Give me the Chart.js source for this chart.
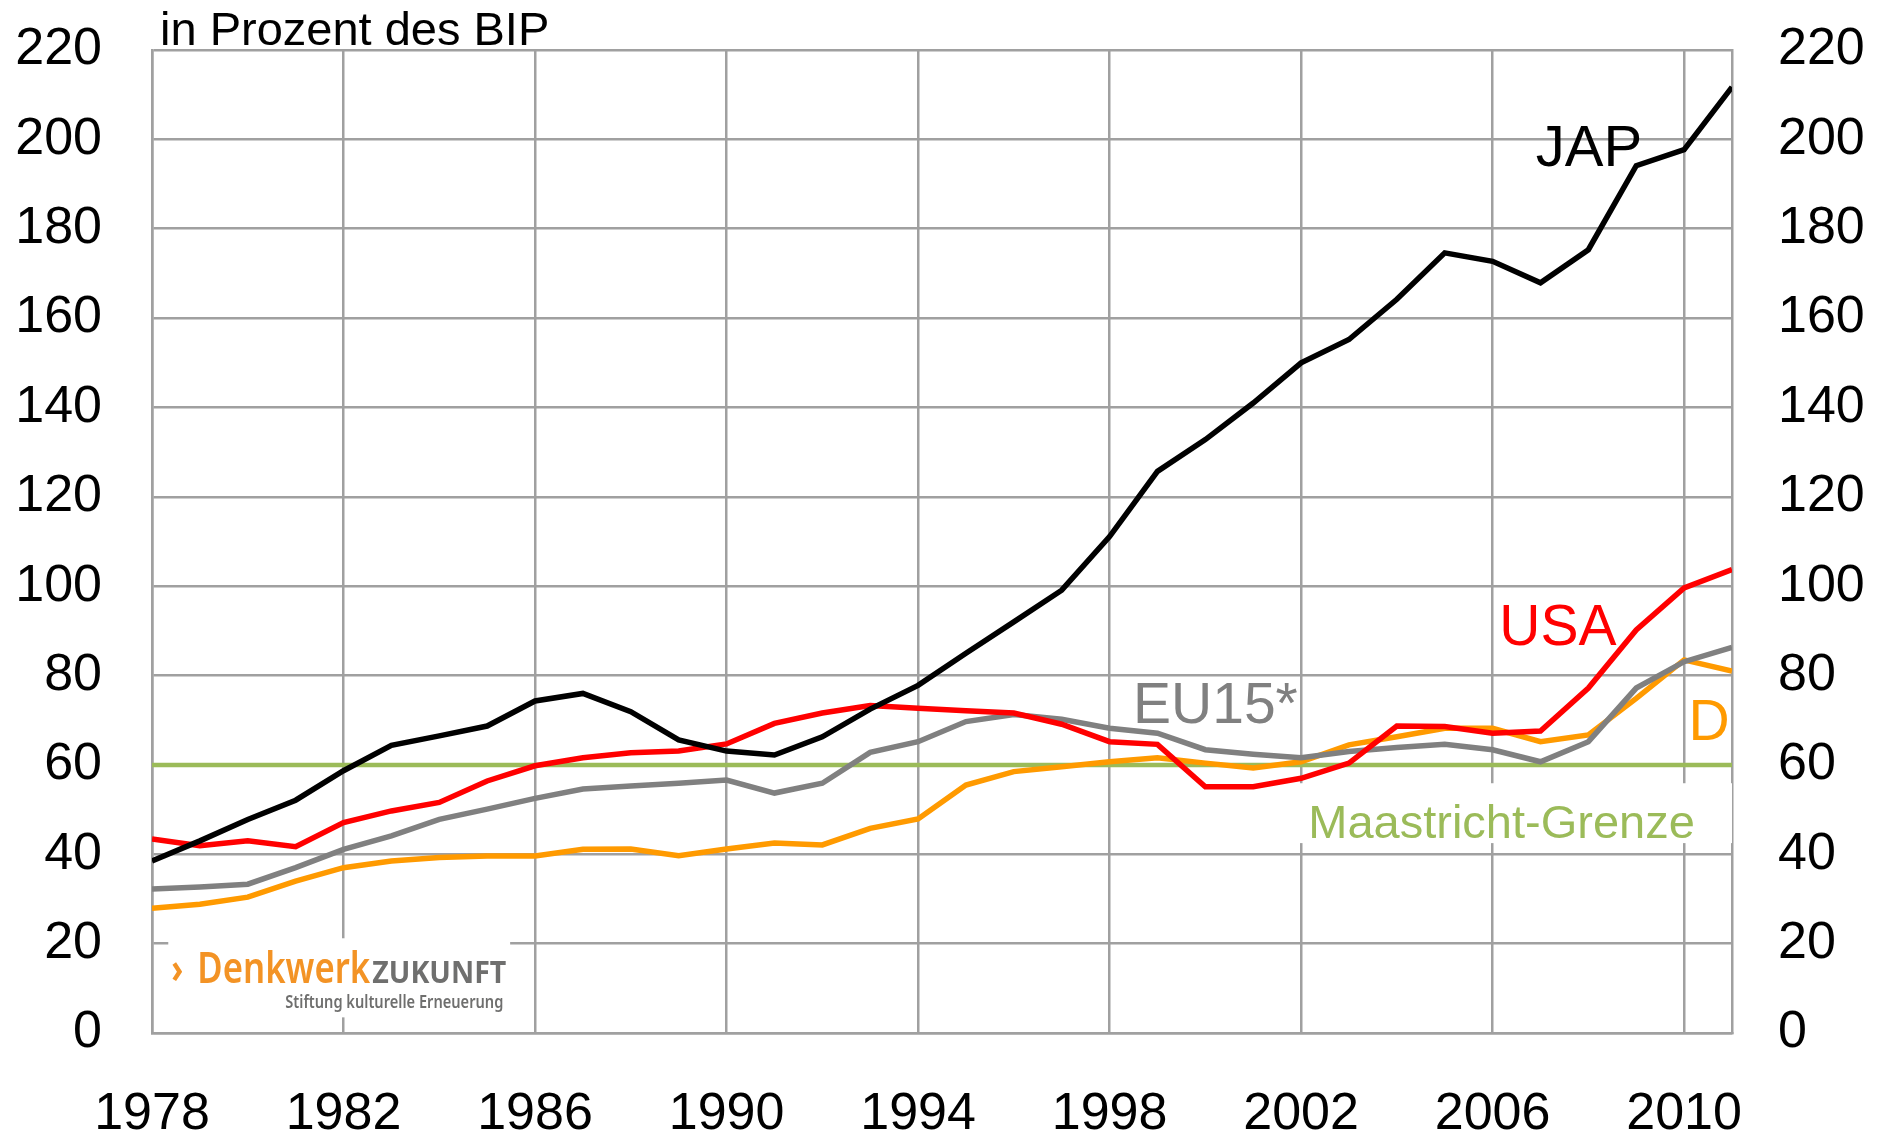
<!DOCTYPE html>
<html lang="de">
<head>
<meta charset="utf-8">
<title>Staatsverschuldung in Prozent des BIP</title>
<script src="https://cdn.jsdelivr.net/npm/chart.js@4.4.1/dist/chart.umd.min.js"></script>
<style>
  html, body { margin: 0; padding: 0; background: #fff; }
  #wrap { width: 1885px; height: 1134px; }
</style>
</head>
<body>
<div id="wrap"><canvas id="debtChart" width="1885" height="1134"></canvas></div>
<script>
// Jahre und Schuldenquoten (in Prozent des BIP)
const years = [1978, 1979, 1980, 1981, 1982, 1983, 1984, 1985, 1986, 1987,
               1988, 1989, 1990, 1991, 1992, 1993, 1994, 1995, 1996, 1997,
               1998, 1999, 2000, 2001, 2002, 2003, 2004, 2005, 2006, 2007,
               2008, 2009, 2010, 2011];
const jap  = [38.5, 43.0, 47.8, 52.1, 58.7, 64.4, 66.5, 68.7, 74.3, 76.0,
              71.9, 65.6, 63.1, 62.2, 66.3, 72.5, 77.8, 85.0, 92.0, 99.1,
              111.1, 125.7, 132.8, 141.0, 150.0, 155.2, 164.2, 174.6, 172.7, 167.9,
              175.3, 194.1, 197.7, 211.7];
const usa  = [43.4, 41.9, 43.0, 41.7, 47.1, 49.7, 51.6, 56.4, 59.8, 61.6,
              62.7, 63.1, 64.7, 69.3, 71.6, 73.3, 72.7, 72.1, 71.6, 69.1,
              65.2, 64.6, 55.1, 55.1, 57.0, 60.4, 68.7, 68.6, 67.1, 67.6,
              77.2, 90.2, 99.6, 103.7];
const eu15 = [32.2, 32.7, 33.3, 37.0, 41.1, 44.1, 47.8, 50.1, 52.5, 54.6,
              55.3, 55.9, 56.6, 53.7, 55.9, 62.8, 65.2, 69.7, 71.3, 70.2,
              68.2, 67.1, 63.4, 62.4, 61.6, 63.0, 63.9, 64.6, 63.4, 60.7,
              65.2, 77.2, 83.1, 86.3];
const deu  = [27.9, 28.8, 30.4, 34.0, 37.0, 38.5, 39.3, 39.6, 39.6, 41.1,
              41.2, 39.7, 41.2, 42.5, 42.1, 45.8, 47.9, 55.5, 58.5, 59.6,
              60.7, 61.6, 60.4, 59.3, 60.7, 64.5, 66.3, 68.2, 68.2, 65.2,
              66.7, 74.9, 83.5, 81.0];
const maastrichtGrenze = 60;

const xTicks = [1978, 1982, 1986, 1990, 1994, 1998, 2002, 2006, 2010];
const yTicks = [0, 20, 40, 60, 80, 100, 120, 140, 160, 180, 200, 220];

// Farben / Schrift
const gridColor = '#a0a0a0';
const fontFamily = '"Liberation Sans", Arial, sans-serif';
const logoFont = '"Noto Sans", "Open Sans", sans-serif';
const colJap = '#000000';
const colUsa = '#ff0000';
const colEu = '#808080';
const colDeu = '#ff9a00';
const colMaas = '#9bbb59';

// Beschriftungen an den Linien (Position in Jahr / Prozent)
const seriesLabels = [
    { text: 'JAP',   x: 2006.9,  y: 194.1, color: colJap,  size: 58 },
    { text: 'USA',   x: 2006.14, y: 86.9,  color: colUsa,  size: 57 },
    { text: 'EU15*', x: 1998.49, y: 69.3,  color: colEu,   size: 57 },
    { text: 'D',     x: 2010.09, y: 65.6,  color: colDeu,  size: 57 },
    { text: 'Maastricht-Grenze', x: 2002.15, y: 43.6, color: colMaas, size: 47 }
];
// weiße Hintergrundflächen (Logo unten links, Maastricht-Text)
const logoBox = { x0: 1978.34, x1: 1985.48, y0: 3.5, y1: 21.2 };
const maasBox = { x0: 2001.73, x1: 2011, y0: 42.5, y1: 55.9 };

const toPoints = (vals) => years.map((yr, i) => ({ x: yr, y: vals[i] }));

// Text horizontal auf eine Zielbreite stauchen
function fitText(ctx, text, x, y, width, font, color) {
    ctx.save();
    ctx.font = font;
    ctx.fillStyle = color;
    ctx.textBaseline = 'alphabetic';
    ctx.textAlign = 'left';
    const w = ctx.measureText(text).width;
    ctx.translate(x, y);
    ctx.scale(width / w, 1);
    ctx.fillText(text, 0, 0);
    ctx.restore();
}

function boxRect(scales, b) {
    const left = scales.x.getPixelForValue(b.x0);
    const right = scales.x.getPixelForValue(b.x1);
    const top = scales.y.getPixelForValue(b.y1);
    const bottom = scales.y.getPixelForValue(b.y0);
    return { left, top, w: right - left, h: bottom - top };
}

const annotations = {
    id: 'annotations',
    beforeDatasetsDraw(chart) {
        const { ctx, scales, chartArea } = chart;
        ctx.save();
        // weiße Flächen über dem Gitter
        ctx.fillStyle = '#ffffff';
        [logoBox, maasBox].forEach(b => {
            const r = boxRect(scales, b);
            ctx.fillRect(r.left, r.top, r.w, r.h);
        });
        // Maastricht-Grenze
        const yy = scales.y.getPixelForValue(maastrichtGrenze);
        ctx.strokeStyle = colMaas;
        ctx.lineWidth = 4.5;
        ctx.beginPath();
        ctx.moveTo(chartArea.left, yy);
        ctx.lineTo(chartArea.right, yy);
        ctx.stroke();
        ctx.restore();

        // Logo
        const r = boxRect(scales, logoBox);
        fitText(ctx, '\u203A', r.left + 3, r.top + 45, 12, 'bold 42px ' + logoFont, '#f39325');
        fitText(ctx, 'Denkwerk', r.left + 29, r.top + 45, 173, '600 44px ' + logoFont, '#f39325');
        fitText(ctx, 'ZUKUNFT', r.left + 204, r.top + 45, 134, 'bold 30px ' + logoFont, '#6f6f6e');
        fitText(ctx, 'Stiftung kulturelle Erneuerung', r.left + 117, r.top + 70, 218, '600 17px ' + logoFont, '#6f6f6e');
    },
    afterDatasetsDraw(chart) {
        const { ctx, scales } = chart;
        ctx.save();
        ctx.textBaseline = 'alphabetic';
        ctx.textAlign = 'left';
        seriesLabels.forEach(l => {
            ctx.font = l.size + 'px ' + fontFamily;
            ctx.fillStyle = l.color;
            ctx.fillText(l.text, scales.x.getPixelForValue(l.x), scales.y.getPixelForValue(l.y));
        });
        // Achsentitel oben
        ctx.font = '47px ' + fontFamily;
        ctx.fillStyle = '#000';
        ctx.fillText('in Prozent des BIP', 160, 45);
        ctx.restore();
    }
};

function lineDs(label, vals, color, order) {
    return {
        label: label,
        data: toPoints(vals),
        borderColor: color,
        backgroundColor: color,
        borderWidth: 5.5,
        pointRadius: 0,
        tension: 0,
        fill: false,
        order: order
    };
}

const tickFont = { family: fontFamily, size: 52 };

// feste Achsenbreite, ohne zusätzlichen Abstand oben/unten durch das Tick-Padding
const fixWidth = (w) => (s) => {
    s.width = w;
    s.paddingTop = 0;
    s.paddingBottom = 0;
};

new Chart(document.getElementById('debtChart'), {
    type: 'line',
    data: {
        datasets: [
            lineDs('JAP', jap, colJap, 0),
            lineDs('USA', usa, colUsa, 1),
            lineDs('EU15*', eu15, colEu, 2),
            lineDs('D', deu, colDeu, 3)
        ]
    },
    options: {
        responsive: false,
        animation: false,
        layout: { padding: { top: 50, left: 0, right: 0, bottom: 0 } },
        plugins: {
            legend: { display: false },
            tooltip: { enabled: false },
            title: { display: false }
        },
        scales: {
            x: {
                type: 'linear',
                min: 1978,
                max: 2011,
                afterBuildTicks: (s) => { s.ticks = xTicks.map(v => ({ value: v })); },
                afterFit: (s) => { s.height = 101; s.paddingLeft = 0; s.paddingRight = 0; },
                grid: { color: gridColor, lineWidth: 2.5, drawTicks: false },
                border: { color: gridColor, width: 2.5 },
                ticks: {
                    color: '#000',
                    font: tickFont,
                    padding: 50,
                    autoSkip: false,
                    maxRotation: 0,
                    callback: (v) => String(v)
                }
            },
            y: {
                position: 'left',
                min: 0,
                max: 220,
                afterBuildTicks: (s) => { s.ticks = yTicks.map(v => ({ value: v })); },
                afterFit: fixWidth(152),
                grid: { color: gridColor, lineWidth: 2.5, drawTicks: false },
                border: { color: gridColor, width: 2.5 },
                ticks: { color: '#000', font: tickFont, padding: 50, autoSkip: false }
            },
            y2: {
                position: 'right',
                min: 0,
                max: 220,
                afterBuildTicks: (s) => { s.ticks = yTicks.map(v => ({ value: v })); },
                afterFit: fixWidth(153),
                grid: { display: false, drawTicks: false },
                border: { color: gridColor, width: 2.5 },
                ticks: { color: '#000', font: tickFont, padding: 46, autoSkip: false }
            }
        }
    },
    plugins: [annotations]
});
</script>
</body>
</html>
